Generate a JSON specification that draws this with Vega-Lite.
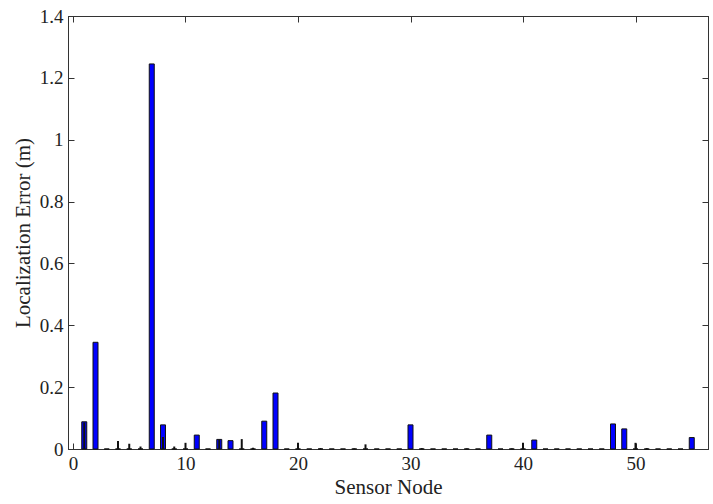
{
  "$schema": "https://vega.github.io/schema/vega-lite/v6.json",
  "width": 640,
  "height": 433,
  "autosize": "none",
  "padding": {"left": 68, "top": 16, "right": 5, "bottom": 55},
  "background": "white",
  "config": {
    "view": {"stroke": "#333", "strokeWidth": 1},
    "axis": {
      "labelFont": "Liberation Serif", "labelFontSize": 19, "labelColor": "#222",
      "titleFont": "Liberation Serif", "titleFontSize": 21, "titleFontWeight": "normal", "titleColor": "#222",
      "grid": false, "domainColor": "#333", "tickColor": "#333", "tickSize": -6
    }
  },
  "data": {"values": [
    {"node": 1, "blue": 0.088, "black": 0.086},
    {"node": 2, "blue": 0.345, "black": 0},
    {"node": 3, "blue": 0, "black": 0},
    {"node": 4, "blue": 0, "black": 0.026},
    {"node": 5, "blue": 0, "black": 0.017},
    {"node": 6, "blue": 0, "black": 0.008},
    {"node": 7, "blue": 1.245, "black": 0},
    {"node": 8, "blue": 0.078, "black": 0.039},
    {"node": 9, "blue": 0, "black": 0.008},
    {"node": 10, "blue": 0, "black": 0.02},
    {"node": 11, "blue": 0.045, "black": 0},
    {"node": 12, "blue": 0, "black": 0},
    {"node": 13, "blue": 0.031, "black": 0.03},
    {"node": 14, "blue": 0.027, "black": 0},
    {"node": 15, "blue": 0, "black": 0.032},
    {"node": 16, "blue": 0, "black": 0.004},
    {"node": 17, "blue": 0.09, "black": 0},
    {"node": 18, "blue": 0.181, "black": 0},
    {"node": 19, "blue": 0, "black": 0},
    {"node": 20, "blue": 0, "black": 0.02},
    {"node": 21, "blue": 0, "black": 0},
    {"node": 22, "blue": 0, "black": 0.003},
    {"node": 23, "blue": 0, "black": 0},
    {"node": 24, "blue": 0, "black": 0},
    {"node": 25, "blue": 0, "black": 0.002},
    {"node": 26, "blue": 0, "black": 0.015},
    {"node": 27, "blue": 0, "black": 0},
    {"node": 28, "blue": 0, "black": 0},
    {"node": 29, "blue": 0, "black": 0},
    {"node": 30, "blue": 0.078, "black": 0},
    {"node": 31, "blue": 0, "black": 0.003},
    {"node": 32, "blue": 0, "black": 0},
    {"node": 33, "blue": 0, "black": 0},
    {"node": 34, "blue": 0, "black": 0},
    {"node": 35, "blue": 0, "black": 0.002},
    {"node": 36, "blue": 0, "black": 0},
    {"node": 37, "blue": 0.045, "black": 0},
    {"node": 38, "blue": 0, "black": 0},
    {"node": 39, "blue": 0, "black": 0.002},
    {"node": 40, "blue": 0, "black": 0.02},
    {"node": 41, "blue": 0.029, "black": 0},
    {"node": 42, "blue": 0, "black": 0},
    {"node": 43, "blue": 0, "black": 0},
    {"node": 44, "blue": 0, "black": 0},
    {"node": 45, "blue": 0, "black": 0},
    {"node": 46, "blue": 0, "black": 0},
    {"node": 47, "blue": 0, "black": 0},
    {"node": 48, "blue": 0.081, "black": 0},
    {"node": 49, "blue": 0.065, "black": 0},
    {"node": 50, "blue": 0, "black": 0.02},
    {"node": 51, "blue": 0, "black": 0.003},
    {"node": 52, "blue": 0, "black": 0},
    {"node": 53, "blue": 0, "black": 0},
    {"node": 54, "blue": 0, "black": 0},
    {"node": 55, "blue": 0.037, "black": 0}
  ]},
  "resolve": {"axis": {"x": "independent", "y": "independent"}},
  "layer": [
    {
      "mark": {"type": "bar", "size": 5, "color": "#0000ff", "stroke": "#111", "strokeWidth": 1},
      "encoding": {
        "x": {"field": "node", "type": "quantitative", "scale": {"domain": [0, 56], "nice": false},
              "axis": {"title": "Sensor Node", "values": [0, 10, 20, 30, 40, 50], "labelPadding": 11, "titlePadding": 3}},
        "y": {"field": "blue", "type": "quantitative", "scale": {"domain": [0, 1.4], "nice": false},
              "axis": {"title": "Localization Error (m)", "values": [0, 0.2, 0.4, 0.6, 0.8, 1, 1.2, 1.4], "format": "~g", "labelPadding": 11, "titlePadding": 6}}
      }
    },
    {
      "mark": {"type": "bar", "size": 2, "color": "#111"},
      "encoding": {
        "x": {"field": "node", "type": "quantitative", "axis": {"orient": "top", "labels": false, "title": null, "values": [0, 10, 20, 30, 40, 50]}},
        "y": {"field": "black", "type": "quantitative", "axis": {"orient": "right", "labels": false, "title": null, "values": [0, 0.2, 0.4, 0.6, 0.8, 1, 1.2, 1.4]}}
      }
    }
  ]
}
